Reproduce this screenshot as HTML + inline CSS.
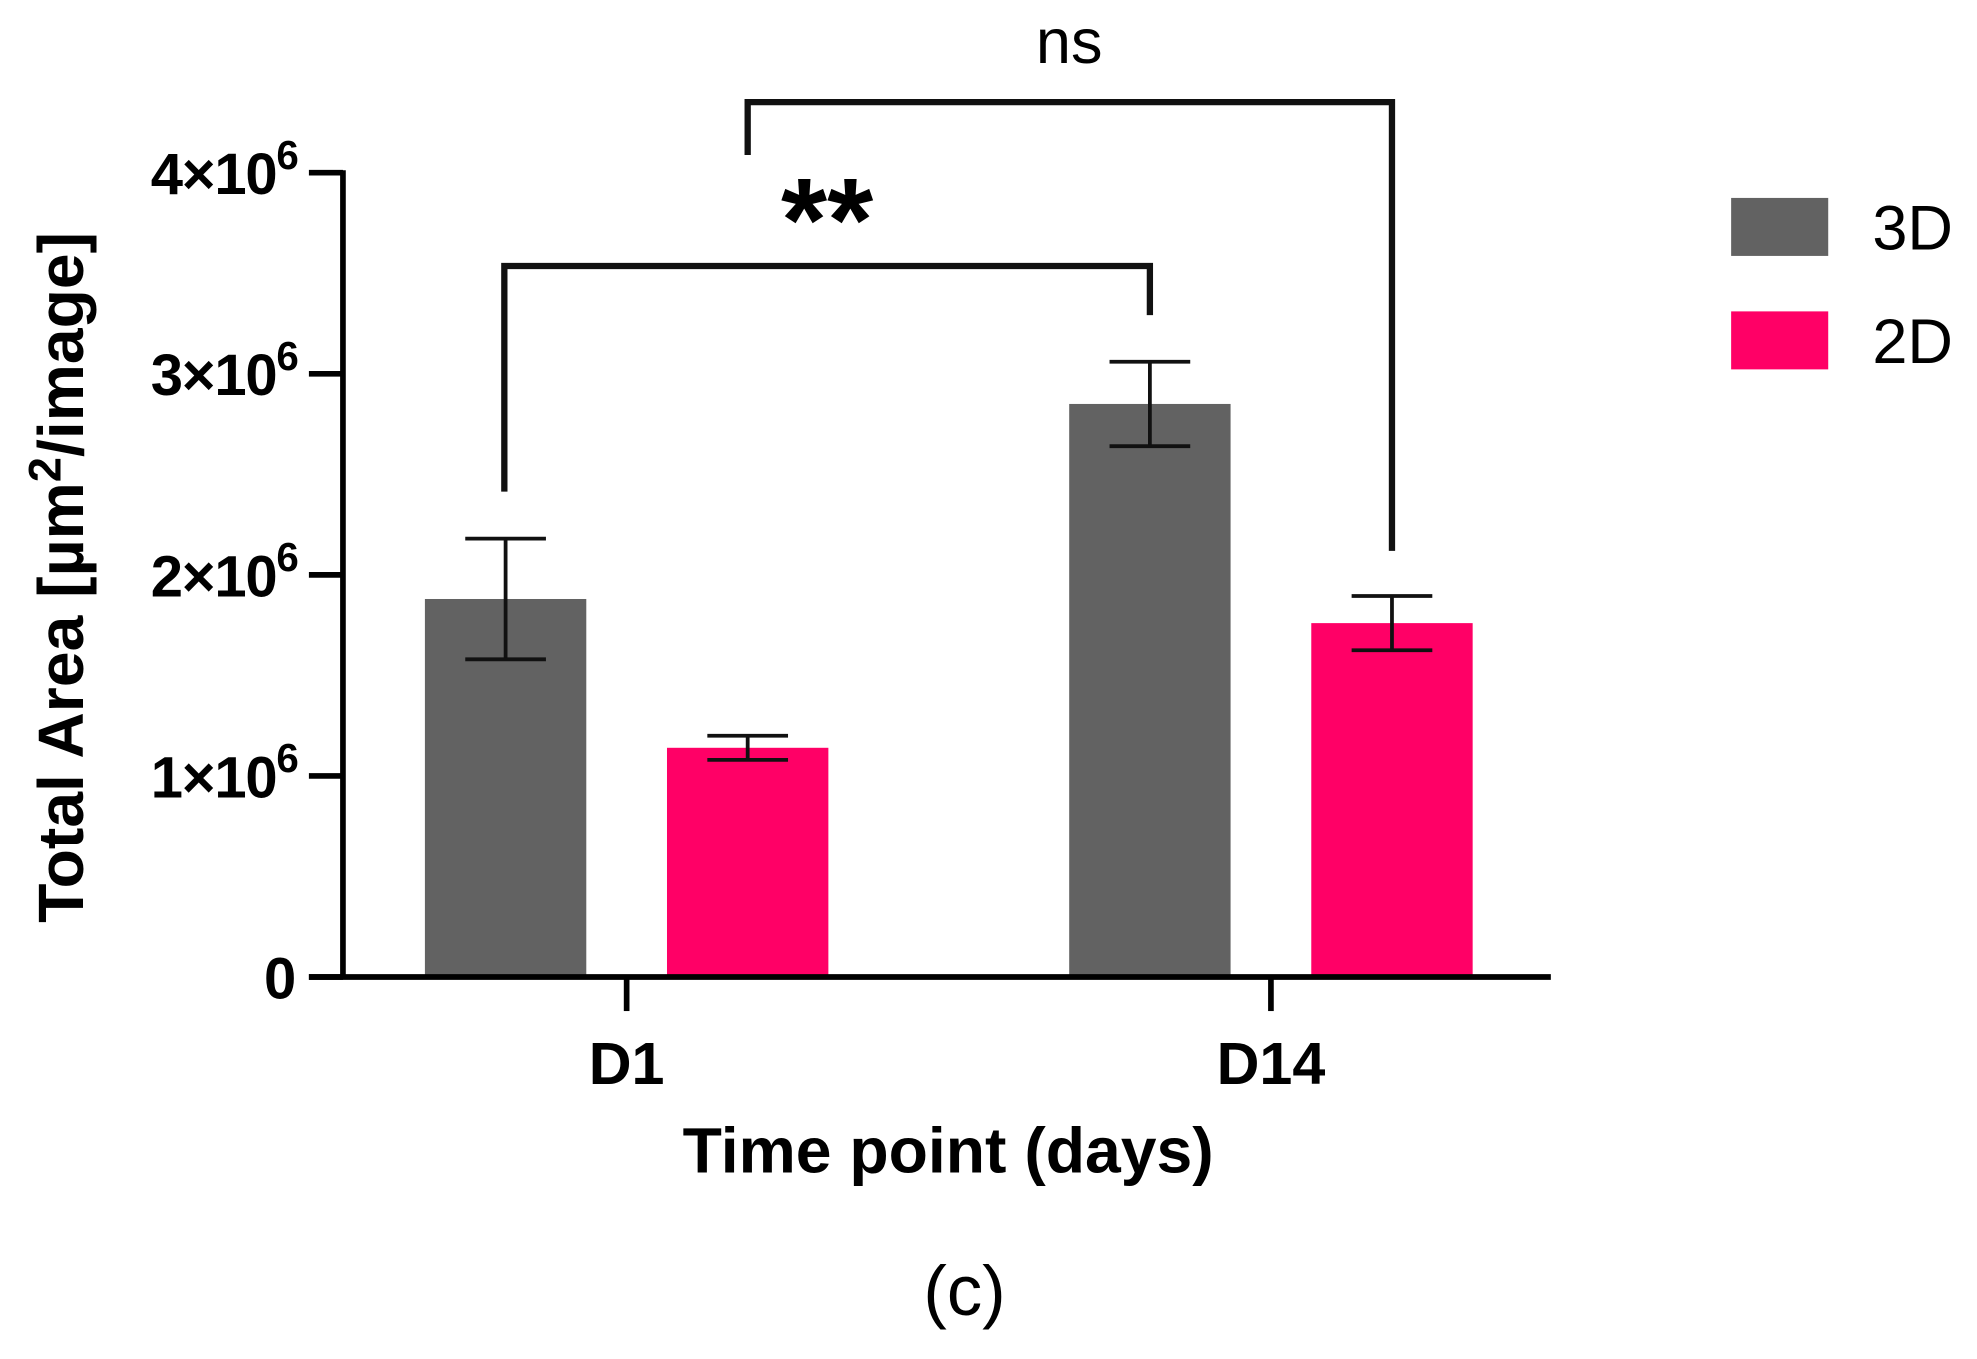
<!DOCTYPE html>
<html><head><meta charset="utf-8"><style>
html,body{margin:0;padding:0;background:#fff;}
svg{display:block;}
text{font-family:"Liberation Sans",Arial,sans-serif;}
</style></head><body>
<svg id="chart" width="1977" height="1359" viewBox="0 0 1568 1078" preserveAspectRatio="none" xmlns="http://www.w3.org/2000/svg"></svg>
<script>
const categories = ["D1", "D14"];
const series3D = [1.88, 2.85];
const err3D = [0.30, 0.21];
const series2D = [1.14, 1.76];
const err2D = [0.06, 0.135];
const yTicks = [0, 1, 2, 3, 4];
const yTickLabels = ["0", "1×10", "2×10", "3×10", "4×10"];

const NS = "http://www.w3.org/2000/svg";
const svg = document.getElementById("chart");
const y0 = 775, yTop = 137, yMax = 4;
const yScale = v => y0 - (v / yMax) * (y0 - yTop);
const catX = [497, 1008];
const barW = 128;
function el(tag, attrs, parent) {
  const e = document.createElementNS(NS, tag);
  for (const k in attrs) e.setAttribute(k, attrs[k]);
  (parent || svg).appendChild(e);
  return e;
}
categories.forEach((c, i) => {
  const defs = [[series3D, err3D, "#626262", -96, "3d"], [series2D, err2D, "#ff0066", 96, "2d"]];
  defs.forEach(([vals, errs, col, off, nm]) => {
    const cx = catX[i] + off;
    const r = el("rect", {x: cx - barW / 2, y: yScale(vals[i]), width: barW, height: y0 - yScale(vals[i]), fill: col});
    
    
    const g = el("g", {stroke: "#111", "stroke-width": 3, fill: "none"});
    
    
    const hi = yScale(vals[i] + errs[i]), lo = yScale(vals[i] - errs[i]);
    el("line", {x1: cx, x2: cx, y1: hi, y2: lo}, g);
    el("line", {x1: cx - 32, x2: cx + 32, y1: hi, y2: hi}, g);
    el("line", {x1: cx - 32, x2: cx + 32, y1: lo, y2: lo}, g);
  });
});
const ax = el("g", {stroke: "#000", "stroke-width": 4.5, fill: "none"});


el("line", {x1: 272, x2: 272, y1: yTop - 2, y2: y0 + 2}, ax);
el("line", {x1: 245, x2: 1230, y1: y0, y2: y0}, ax);
yTicks.forEach((t, i) => {
  const y = yScale(t);
  el("line", {x1: 245, x2: 272, y1: y, y2: y}, ax);
  const tx = el("text", {x: 234, y: y + 17, "text-anchor": "end", "font-size": 46, "font-weight": "bold", "letter-spacing": -1});
  
  
  tx.textContent = yTickLabels[i];
  if (t > 0) {
    const s = el("tspan", {dy: -20, "font-size": 32}, tx);
    s.textContent = "6";
    tx.setAttribute("x", 236);
  }
});
categories.forEach((c, i) => {
  el("line", {x1: catX[i], x2: catX[i], y1: y0, y2: 802}, ax);
  const tx = el("text", {x: catX[i], y: 860, "text-anchor": "middle", "font-size": 47, "font-weight": "bold"});
  
  
  tx.textContent = c;
});
</script>
<script>
const s2 = document.getElementById("chart");
s2.insertAdjacentHTML("beforeend", `
<g stroke="#111" stroke-width="5" fill="none">
<polyline points="400,390 400,211 912,211 912,250"/></g>
<text x="656" y="207" text-anchor="middle" font-size="94" font-weight="bold">**</text>
<g stroke="#111" stroke-width="5" fill="none">
<polyline points="593,123 593,81 1104,81 1104,437"/></g>
<text x="848" y="50" text-anchor="middle" font-size="50">ns</text>
<rect x="1373" y="157" width="77" height="46" fill="#626262"/>
<text x="1485" y="198" font-size="50">3D</text>
<rect x="1373" y="247" width="77" height="46" fill="#ff0066"/>
<text x="1485" y="288" font-size="50">2D</text>
<text transform="translate(66,458) rotate(-90)" text-anchor="middle" font-size="51" font-weight="bold">Total Area [µm<tspan dy="-18" font-size="36">2</tspan><tspan dy="18">/image]</tspan></text>
<text x="752" y="930" text-anchor="middle" font-size="51" font-weight="bold">Time point (days)</text>
<text x="765" y="1043" text-anchor="middle" font-size="56">(c)</text>
`);
</script>
</body></html>
